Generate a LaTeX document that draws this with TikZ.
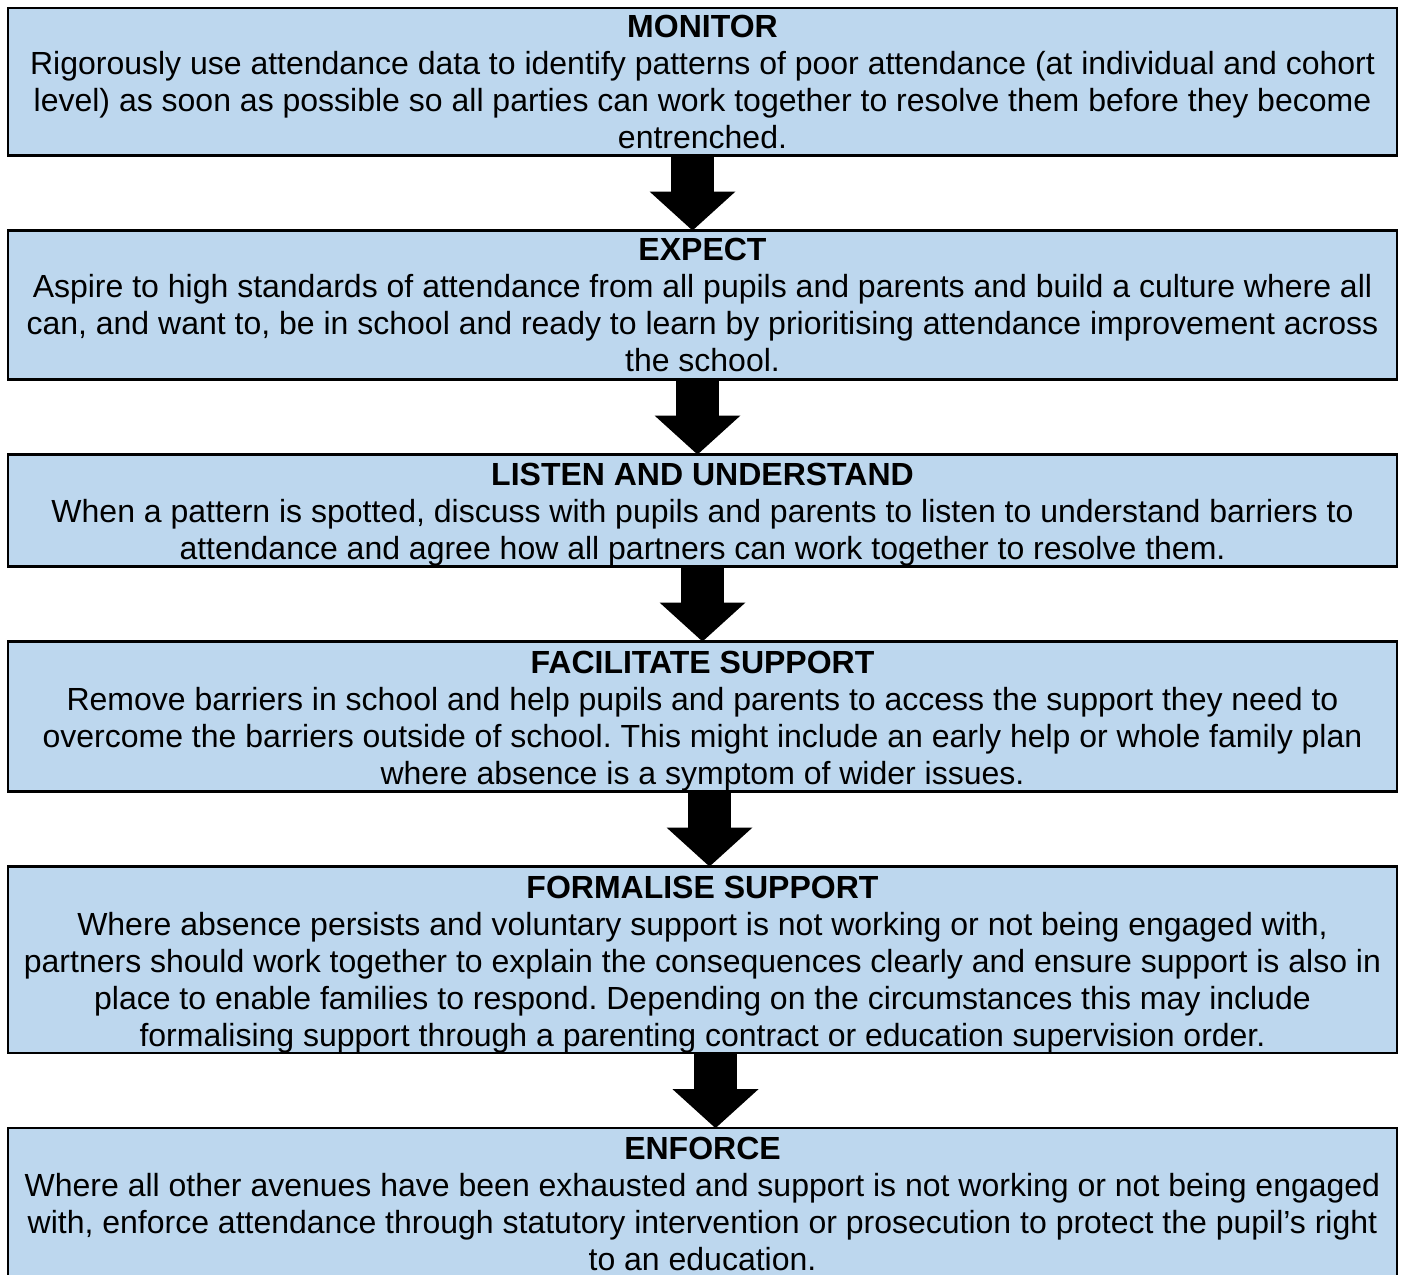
\documentclass[tikz,border=0pt]{standalone}
\usepackage{fontspec}
\setmainfont{Liberation Sans}
\usetikzlibrary{positioning,arrows.meta}
\definecolor{stagefill}{RGB}{189,215,238}

\begin{document}
\begin{tikzpicture}[x=0.5pt, y=-0.5pt, node distance=37.5pt,
    stage/.style={draw, line width=1.25pt, fill=stagefill, rectangle, minimum width=694.5pt, inner sep=0pt, outer sep=0pt, align=center, font=\fontsize{16}{18.5}\selectfont\frenchspacing},
    flow/.style={line width=21.5pt, -{Triangle[length=19.5pt, width=43pt, line width=0pt]}}]
    \useasboundingbox (0,0) rectangle (1405,1275);

    % Stages
    \node (monitor) [stage, minimum height=73.75pt] at (702.5,81.75) {\textbf{MONITOR}\\
      Rigorously use attendance data to identify patterns of poor attendance (at individual and cohort\\
      level) as soon as possible so all parties can work together to resolve them before they become\\
      entrenched.};
    \node (expect) [stage, minimum height=74.5pt, below=of monitor] {\textbf{EXPECT}\\
      Aspire to high standards of attendance from all pupils and parents and build a culture where all\\
      can, and want to, be in school and ready to learn by prioritising attendance improvement across\\
      the school.};
    \node (listen) [stage, minimum height=56pt, below=of expect] {\rule{0pt}{15.5pt}\textbf{LISTEN AND UNDERSTAND}\\
      When a pattern is spotted, discuss with pupils and parents to listen to understand barriers to\\
      attendance and agree how all partners can work together to resolve them.};
    \node (facilitate) [stage, minimum height=75pt, below=of listen] {\rule{0pt}{15.5pt}\textbf{FACILITATE SUPPORT}\\
      Remove barriers in school and help pupils and parents to access the support they need to\\
      overcome the barriers outside of school. This might include an early help or whole family plan\\
      where absence is a symptom of wider issues.};
    \node (formalise) [stage, minimum height=92.25pt, below=of facilitate] {\rule{0pt}{16pt}\textbf{FORMALISE SUPPORT}\\
      Where absence persists and voluntary support is not working or not being engaged with,\\
      partners should work together to explain the consequences clearly and ensure support is also in\\
      place to enable families to respond. Depending on the circumstances this may include\\
      formalising support through a parenting contract or education supervision order.};
    \node (enforce) [stage, minimum height=76pt, below=of formalise] {\textbf{ENFORCE}\\
      Where all other avenues have been exhausted and support is not working or not being engaged\\
      with, enforce attendance through statutory intervention or prosecution to protect the pupil’s right\\
      to an education.};

    % Block arrows
    \draw[flow] ([xshift=-5pt]monitor.south) -- ([xshift=-5pt]expect.north);
    \draw[flow] ([xshift=-2.5pt]expect.south) -- ([xshift=-2.5pt]listen.north);
    \draw[flow] (listen.south) -- (facilitate.north);
    \draw[flow] ([xshift=3.5pt]facilitate.south) -- ([xshift=3.5pt]formalise.north);
    \draw[flow] ([xshift=6.5pt]formalise.south) -- ([xshift=6.5pt]enforce.north);

\end{tikzpicture}
\end{document}
